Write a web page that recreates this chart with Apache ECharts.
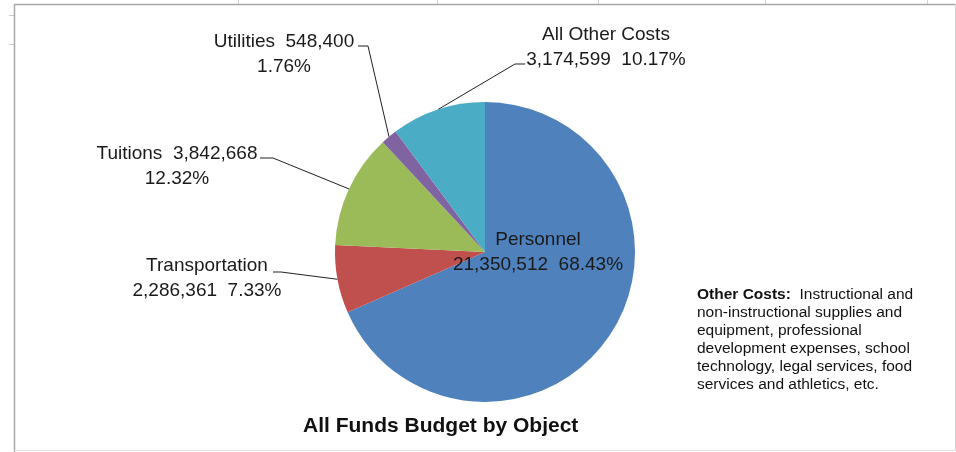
<!DOCTYPE html>
<html><head><meta charset="utf-8">
<script src="https://cdn.jsdelivr.net/npm/echarts@6/dist/echarts.min.js"></script>
<style>html,body{margin:0;padding:0;background:#fff}#chart{width:956px;height:452px}</style>
</head><body><div id="chart"></div>
<script>
// ---- data ----
const categories = ['Personnel', 'Transportation', 'Tuitions', 'Utilities', 'All Other Costs'];
const amounts = [21350512, 2286361, 3842668, 548400, 3174599];
const chartTitle = 'All Funds Budget by Object';
const noteHead = 'Other Costs:';
const noteLines = [
  '  Instructional and',
  'non-instructional supplies and',
  'equipment, professional',
  'development expenses, school',
  'technology, legal services, food',
  'services and athletics, etc.'
];

// ---- style ----
const sliceColors = ['#4F81BD', '#C0504D', '#9BBB59', '#8064A2', '#4BACC6'];
const FONT = 'Liberation Sans';
const total = amounts.reduce((a, b) => a + b, 0);
const fmt = v => v.toLocaleString('en-US');
const pct = v => (v / total * 100).toFixed(2) + '%';

// label text arrangement + placement (style only)
const labelStyle = {
  'Personnel':       { twoOnFirst: false, x: 538, y: 252 },
  'Transportation':  { twoOnFirst: false, x: 207, y: 278, hook: [[281, 272], [273, 272]] },
  'Tuitions':        { twoOnFirst: true,  x: 177, y: 166, hook: [[273, 158], [260, 158]] },
  'Utilities':       { twoOnFirst: true,  x: 284, y: 54,  hook: [[368, 46], [358, 46]] },
  'All Other Costs': { twoOnFirst: false, x: 606, y: 47.5, hook: [[515, 64], [525, 64]] }
};

const seriesData = categories.map((name, i) => {
  const item = { name: name, value: amounts[i], itemStyle: { color: sliceColors[i] } };
  if (name === 'Personnel') item.labelLine = { show: false };
  return item;
});

const chart = echarts.init(document.getElementById('chart'), null, { renderer: 'canvas' });

const gridX = [238, 437, 598, 765, 927];
const gridY = [15, 44];
const graphics = [];
gridX.forEach(x => graphics.push({ type: 'line', z: -1, shape: { x1: x + 0.5, y1: 0, x2: x + 0.5, y2: 4 }, style: { stroke: '#d4d4d4', lineWidth: 1 } }));
gridY.forEach(y => graphics.push({ type: 'line', z: -1, shape: { x1: 9, y1: y + 0.5, x2: 14, y2: y + 0.5 }, style: { stroke: '#c8c8c8', lineWidth: 1 } }));
graphics.push({ type: 'line', shape: { x1: 14, y1: 4.5, x2: 956, y2: 4.5 }, style: { stroke: '#a8a8a8', lineWidth: 1.5 } });
graphics.push({ type: 'line', shape: { x1: 14.5, y1: 4, x2: 14.5, y2: 452 }, style: { stroke: '#a8a8a8', lineWidth: 1.5 } });
graphics.push({ type: 'line', shape: { x1: 955.5, y1: 4, x2: 955.5, y2: 451 }, style: { stroke: '#d0d0d0', lineWidth: 1 } });
graphics.push({ type: 'line', shape: { x1: 14, y1: 450.5, x2: 956, y2: 450.5 }, style: { stroke: '#e0e0e0', lineWidth: 1 } });

chart.setOption({
  animation: false,
  backgroundColor: '#ffffff',
  graphic: graphics,
  title: [
    {
      text: chartTitle, left: 303, top: 415, padding: 0,
      textStyle: { fontFamily: FONT, fontSize: 21, fontWeight: 'bold', color: '#111', lineHeight: 22 }
    },
    {
      text: '{b|' + noteHead + '}' + noteLines.join('\n'),
      left: 697, top: 286, padding: 0,
      textStyle: {
        fontFamily: FONT, fontSize: 15.5, color: '#111', lineHeight: 18, fontWeight: 'normal',
        rich: { b: { fontFamily: FONT, fontSize: 15.5, fontWeight: 'bold', color: '#111', lineHeight: 18 } }
      }
    }
  ],
  series: [{
    type: 'pie',
    center: [485, 252],
    radius: 150,
    startAngle: 90,
    clockwise: true,
    avoidLabelOverlap: false,
    itemStyle: { borderWidth: 0 },
    emphasis: { disabled: true },
    label: {
      show: true,
      position: 'outside',
      overflow: 'none',
      fontFamily: FONT,
      fontSize: 19,
      lineHeight: 25,
      color: '#1a1a1a',
      align: 'center',
      formatter: p => {
        const s = labelStyle[p.name];
        return s.twoOnFirst
          ? p.name + '  ' + fmt(p.value) + '\n' + pct(p.value)
          : p.name + '\n' + fmt(p.value) + '  ' + pct(p.value);
      }
    },
    labelLine: { show: true, length: 10, length2: 10, lineStyle: { color: '#222', width: 1 } },
    labelLayout: params => {
      const s = labelStyle[categories[params.dataIndex]];
      const res = { x: s.x, y: s.y, align: 'center', verticalAlign: 'middle' };
      if (s.hook && params.labelLinePoints) {
        res.labelLinePoints = [params.labelLinePoints[0], s.hook[0], s.hook[1]];
      }
      return res;
    },
    data: seriesData
  }]
});
</script>
</body></html>
